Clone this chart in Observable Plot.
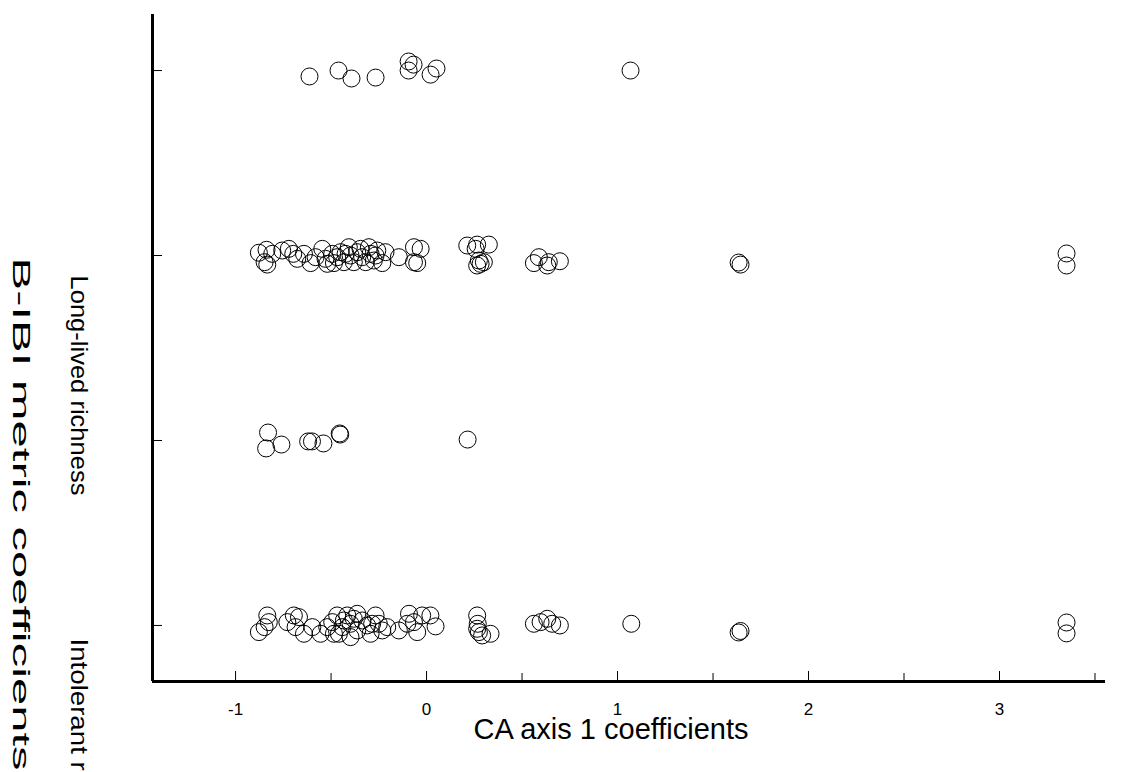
<!DOCTYPE html>
<html><head><meta charset="utf-8">
<script src="https://cdn.jsdelivr.net/npm/d3@7"></script>
<script src="https://cdn.jsdelivr.net/npm/@observablehq/plot@0.6"></script>
<style>body{margin:0;background:#fff;} svg{display:block}</style>
</head><body><div id="chart"></div>
<script>
const xLabel = "CA axis 1 coefficients";
const yTitle = "B-IBI metric coefficients";
const metricLabels = ["Long-lived richness", "Intolerant richness"];
const levels = [0, 1, 2, 3];
const xTicks = [-1, 0, 1, 2, 3];
const xMinorTicks = [-0.5, 0.5, 1.5, 2.5, 3.5];
const xDomain = [-1.435, 3.555];
const yDomain = [-0.303, 3.303];

// top row (level 3)
const row3X = [-0.613, -0.461, -0.393, -0.267, -0.094, -0.068, -0.094, 0.021, 0.052, 1.068];
const row3Y = [2.968, 3.000, 2.957, 2.962, 3.049, 3.032, 3.000, 2.978, 3.011, 3.000];

// level 2
const row2X = [-0.878, -0.838, -0.848, -0.834, -0.756, -0.721, -0.698, -0.677, -0.642, -0.607,
               -0.581, -0.546, -0.529, -0.494, -0.485, -0.450, -0.433, -0.407, -0.398, -0.381,
               -0.363, -0.337, -0.302, -0.293, -0.276, -0.258, -0.232, -0.215, -0.145, -0.066,
               -0.031, -0.066, -0.049, -0.468, -0.424, -0.346, -0.319, -0.267, -0.520, -0.808,
               0.213, 0.265, 0.326, 0.257, 0.274, 0.283, 0.265, 0.300,
               0.562, 0.588, 0.632, 0.640, 0.698,
               1.634, 1.644, 3.351, 3.351];
const row2Y = [2.015, 2.031, 1.964, 1.951, 2.027, 2.036, 2.009, 1.982, 2.009, 1.959,
               1.991, 2.036, 1.982, 2.009, 1.959, 2.018, 1.964, 2.045, 2.000, 1.964,
               2.018, 1.991, 2.045, 2.009, 1.973, 2.027, 1.959, 2.018, 1.991, 2.045,
               2.036, 1.964, 1.959, 1.991, 2.009, 2.036, 1.964, 2.000, 1.955, 2.009,
               2.054, 2.059, 2.059, 2.036, 1.973, 1.955, 1.946, 1.964,
               1.959, 1.991, 1.946, 1.964, 1.969,
               1.962, 1.951, 2.011, 1.946];

// level 1
const row1X = [-0.830, -0.840, -0.760, -0.620, -0.600, -0.540, -0.455, -0.452, 0.215];
const row1Y = [1.043, 0.957, 0.978, 0.995, 0.995, 0.984, 1.038, 1.032, 1.005];

// level 0
const row0X = [-0.878, -0.834, -0.826, -0.848, -0.729, -0.695, -0.668, -0.642, -0.686, -0.598,
               -0.555, -0.494, -0.485, -0.468, -0.441, -0.415, -0.398, -0.398, -0.381, -0.363,
               -0.337, -0.311, -0.293, -0.267, -0.250, -0.232, -0.206, -0.145, -0.092, -0.066,
               -0.049, -0.023, 0.047, -0.433, -0.520, -0.285, -0.363, -0.101, -0.459, 0.020,
               0.265, 0.268, 0.265, 0.274, 0.291, 0.335,
               0.562, 0.597, 0.632, 0.658, 0.698,
               1.072, 1.634, 1.644, 3.351, 3.351];
const row0Y = [-0.036, 0.054, 0.018, -0.009, 0.018, 0.054, 0.045, -0.045, -0.009, -0.009,
               -0.045, 0.018, -0.045, 0.054, -0.009, 0.054, 0.009, -0.063, 0.036, -0.027,
               0.027, 0.000, -0.045, 0.054, 0.009, -0.027, -0.009, -0.027, 0.063, 0.018,
               -0.036, 0.054, -0.005, 0.027, -0.009, 0.009, 0.063, 0.009, -0.045, 0.054,
               0.054, 0.009, -0.018, -0.036, -0.054, -0.045,
               0.009, 0.018, 0.036, 0.009, 0.000,
               0.009, -0.038, -0.030, 0.016, -0.043];

const points = [];
[[row0X, row0Y], [row1X, row1Y], [row2X, row2Y], [row3X, row3Y]].forEach(([xs, ys]) =>
  xs.forEach((x, i) => points.push({x, y: ys[i]})));

const font = "'Liberation Sans', Arial, sans-serif";

const plot = Plot.plot({
  width: 1136, height: 772,
  marginLeft: 152, marginRight: 31, marginTop: 14, marginBottom: 91,
  style: {fontFamily: font, background: "#fff", color: "#000"},
  x: {domain: xDomain},
  y: {domain: yDomain},
  marks: [
    Plot.axisX({ticks: xTicks, tickSize: 0, tickPadding: 21, fontSize: 17, tickFormat: d => String(d), label: null}),
    Plot.axisX({ticks: xTicks, tickSize: -10, fill: "none", label: null}),
    Plot.axisX({ticks: xMinorTicks, tickSize: -8, fill: "none", label: null}),
    Plot.axisY({ticks: levels, tickSize: -10, fill: "none", label: null}),
    Plot.ruleY([yDomain[0]], {strokeWidth: 3}),
    Plot.ruleX([xDomain[0]], {strokeWidth: 3}),
    Plot.dot(points, {x: "x", y: "y", r: 8.5, stroke: "#000", strokeWidth: 1, fill: "none"}),
    Plot.text([xLabel], {text: d => d, frameAnchor: "bottom", dx: -18, dy: 37, lineAnchor: "top", fontSize: 29}),
    Plot.text([metricLabels[0]], {text: d => d, frameAnchor: "top-left", rotate: 90, textAnchor: "start", lineAnchor: "top", dx: -64, dy: 261, fontSize: 24}),
    Plot.text([metricLabels[1]], {text: d => d, frameAnchor: "top-left", rotate: 90, textAnchor: "start", lineAnchor: "top", dx: -64, dy: 624, fontSize: 24}),
    Plot.text([yTitle], {text: d => d, frameAnchor: "top-left", rotate: 90, textAnchor: "start", lineAnchor: "top", dx: -122, dy: 243, fontSize: 24})
  ]
});

const stretch = {"Long-lived richness": 220, "Intolerant richness": 226, "B-IBI metric coefficients": 513};
plot.querySelectorAll("text").forEach(t => {
  const L = stretch[t.textContent];
  if (L) { t.setAttribute("textLength", L); t.setAttribute("lengthAdjust", "spacingAndGlyphs"); }
});
document.getElementById("chart").appendChild(plot);
</script>
</body></html>
